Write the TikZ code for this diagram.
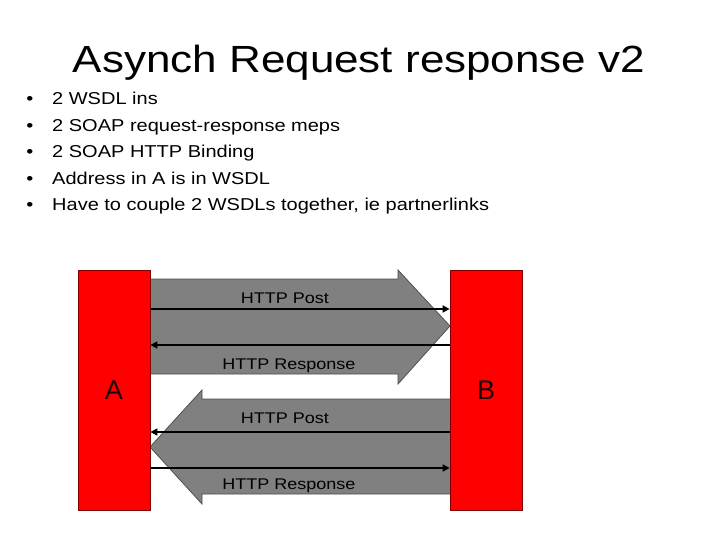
\documentclass[tikz,border=0pt]{standalone}
\usepackage{fontspec}
\setmainfont{Liberation Sans}
\usetikzlibrary{arrows.meta}
\newcommand\sqz[1]{\scalebox{1}[0.86]{#1}}
\tikzset{
  party/.style={draw=red!50!black, line width=0.75pt, fill=red, minimum width=72pt, minimum height=240pt, inner sep=0pt, font=\fontsize{27}{30}\selectfont, text=red!12!black},
  bigarrow/.style={fill=black!50, draw=black!70, line width=0.75pt, line join=miter},
  msg/.style={draw=black, line width=1.6pt, -{Triangle[length=7pt,width=7pt]}},
  lbl/.style={font=\fontsize{18}{20}\selectfont, anchor=base, inner sep=0pt},
  bul/.style={font=\fontsize{20}{22}\selectfont, anchor=base west, inner sep=0pt},
}
\begin{document}
\begin{tikzpicture}[x=1pt,y=1pt]
\useasboundingbox (0,0) rectangle (720,-540);
\fill[white] (0,0) rectangle (720,-540);
% title
\node[font=\fontsize{44}{48}\selectfont, anchor=base, inner sep=0pt] (title) at (359,-73) {\sqz{Asynch Request response v2}};
% bullets
\foreach \t [count=\i] in {2 WSDL ins, 2 SOAP request-response meps, 2 SOAP HTTP Binding, Address in A is in WSDL, {Have to couple 2 WSDLs together, ie partnerlinks}} {
  \node[bul] (b\i) at (52,{-105-26.5*(\i-1)}) {\sqz{\t}};
  \node[bul, anchor=base] (d\i) at (30,{-105-26.5*(\i-1)}) {\sqz{•}};
}
% big gray arrows
\draw[bigarrow] (150,-279) -- (398,-279) -- (398,-270) -- (450,-326) -- (398,-384) -- (398,-374) -- (150,-374);
\draw[bigarrow] (450,-399) -- (202,-399) -- (202,-390) -- (150,-447) -- (202,-504) -- (202,-494) -- (450,-494);
% parties
\node[party] (A) at (114,-390) {A};
\node[party] (B) at (486,-390) {B};
% messages
\draw[msg] (A.east |- 0,-309) -- (B.west |- 0,-309);
\draw[msg] (B.west |- 0,-345) -- (A.east |- 0,-345);
\draw[msg] (B.west |- 0,-432) -- (A.east |- 0,-432);
\draw[msg] (A.east |- 0,-468) -- (B.west |- 0,-468);
% labels
\node[lbl] (l1) at (285,-303) {\sqz{HTTP Post}};
\node[lbl] (l2) at (289,-369) {\sqz{HTTP Response}};
\node[lbl] (l3) at (285,-423) {\sqz{HTTP Post}};
\node[lbl] (l4) at (289,-489) {\sqz{HTTP Response}};
\end{tikzpicture}
\end{document}
